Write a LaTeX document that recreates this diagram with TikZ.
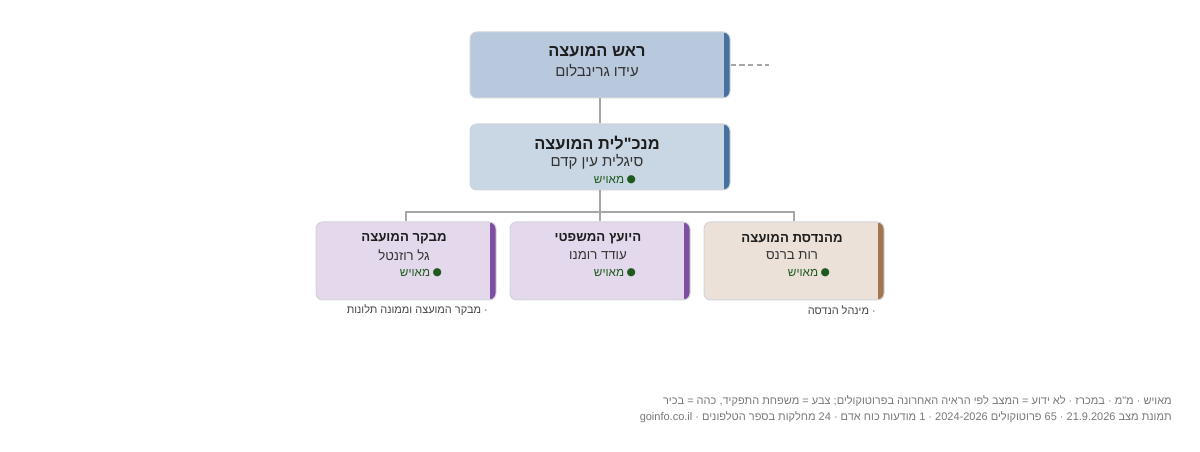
\documentclass[tikz,border=0pt]{standalone}
\usepackage{fontspec}
\setmainfont{Liberation Sans}
\newfontfamily\heb[Script=Hebrew]{Liberation Sans}
\newfontfamily\dvs{DejaVu Sans}
\TeXXeTstate=1
\newcommand{\RL}[1]{\beginR #1\endR}
\newcommand{\LR}[1]{\beginL #1\endL{}}
\definecolor{topfill}{HTML}{B8C9DE}
\definecolor{secfill}{HTML}{C9D6E3}
\definecolor{purfill}{HTML}{E4D9EC}
\definecolor{brnfill}{HTML}{EBE1D9}
\definecolor{barblue}{HTML}{46709E}
\definecolor{barpur}{HTML}{7E4EA3}
\definecolor{barbrn}{HTML}{A3764F}
\definecolor{boxline}{HTML}{D2D4DA}
\definecolor{connc}{HTML}{A6A6A6}
\definecolor{okgreen}{HTML}{1E5A1E}
\definecolor{titlec}{HTML}{1E1E1E}
\definecolor{namec}{HTML}{333333}
\definecolor{capc}{HTML}{444444}
\definecolor{footc}{HTML}{777777}
\tikzset{
  orgbox/.style n args={2}{draw=boxline, line width=0.75pt, fill=#1, rounded corners=5pt,
    inner sep=0pt,
    path picture={\fill[#2, rounded corners=1.5pt]
      ([xshift=-4.5pt]path picture bounding box.north east) rectangle (path picture bounding box.south east);}},
  bigbox/.style={minimum width=195pt, minimum height=49.5pt},
  smallbox/.style={minimum width=135pt, minimum height=58.5pt},
  bigtitle/.style={font=\heb\bfseries\fontsize{12.3pt}{14pt}\selectfont, text=titlec, inner sep=0pt},
  bigname/.style={font=\heb\fontsize{11.2pt}{13pt}\selectfont, text=namec, inner sep=0pt},
  smtitle/.style={font=\heb\bfseries\fontsize{9.9pt}{12pt}\selectfont, text=titlec, inner sep=0pt},
  smname/.style={font=\heb\fontsize{9.9pt}{12pt}\selectfont, text=namec, inner sep=0pt},
  status/.style={font=\heb\fontsize{8.8pt}{11pt}\selectfont, text=okgreen, inner sep=0pt},
  caption/.style={font=\heb\fontsize{8.2pt}{10pt}\selectfont, text=capc, inner sep=0pt, anchor=east},
  footer/.style={font=\heb\fontsize{8.25pt}{10pt}\selectfont, text=footc, inner sep=0pt, anchor=east},
  conn/.style={draw=connc, line width=1pt},
}
\newcommand{\stat}{\RL{\raisebox{0.7pt}{\dvs\fontsize{8pt}{9pt}\selectfont ●}\hspace{2pt}מאויש}}
\begin{document}
\begin{tikzpicture}[x=0.75pt,y=-0.75pt]
\useasboundingbox (0,0) rectangle (1200,452);
% boxes
\node[orgbox={topfill}{barblue}, bigbox] (top) at (600,65) {};
\node[orgbox={secfill}{barblue}, bigbox] (sec) at (600,157) {};
\node[orgbox={purfill}{barpur}, smallbox] (b1) at (406,261) {};
\node[orgbox={purfill}{barpur}, smallbox] (b2) at (600,261) {};
\node[orgbox={brnfill}{barbrn}, smallbox] (b3) at (794,261) {};
% connectors
\coordinate (bus) at (600,212);
\coordinate (dashend) at (769,65);
\draw[conn] (top.south) -- (sec.north);
\draw[conn] (sec.south) -- (bus);
\draw[conn] (b1.north) |- (bus);
\draw[conn] (b3.north) |- (bus);
\draw[conn] (bus) -- (b2.north);
\draw[draw=connc, line width=1pt, dash pattern=on 4pt off 2.5pt] (top.east) -- (dashend);
% top box text
\node[bigtitle] (t1) at (597,52) {\RL{ראש המועצה}};
\node[bigname] (n1) at (597,70.5) {\RL{עידו גרינבלום}};
% second box text
\node[bigtitle] (t2) at (597,143) {\RL{מנכ"לית המועצה}};
\node[bigname] (n2) at (597,161.5) {\RL{סיגלית עין קדם}};
\node[status] (s2) at (615,180) {\stat};
% bottom boxes
\node[smtitle] (t3) at (404,239) {\RL{מבקר המועצה}};
\node[smname] (n3) at (404,255.5) {\RL{גל רוזנטל}};
\node[status] (s3) at (421,273) {\stat};
\node[smtitle] (t4) at (598,239) {\RL{היועץ המשפטי}};
\node[smname] (n4) at (598,255.5) {\RL{עודד רומנו}};
\node[status] (s4) at (615,273) {\stat};
\node[smtitle] (t5) at (792,239) {\RL{מהנדסת המועצה}};
\node[smname] (n5) at (792,255.5) {\RL{רות ברנס}};
\node[status] (s5) at (809,273) {\stat};
% captions
\node[caption] (c1) at (488,310) {\RL{· מבקר המועצה וממונה תלונות}};
\node[caption] (c3) at (876,310) {\RL{· מינהל הנדסה}};
% footer
\node[footer] (f1) at (1172,401) {\RL{מאויש · מ"מ · במכרז · לא ידוע = המצב לפי הראיה האחרונה בפרוטוקולים; צבע = משפחת התפקיד, כהה = בכיר}};
\node[footer] (f2) at (1172,417) {\RL{תמונת מצב \LR{21.9.2026} · \LR{65} פרוטוקולים \LR{2024-2026} · \LR{1} מודעות כוח אדם · \LR{24} מחלקות בספר הטלפונים · \LR{goinfo.co.il}}};
\end{tikzpicture}
\end{document}
